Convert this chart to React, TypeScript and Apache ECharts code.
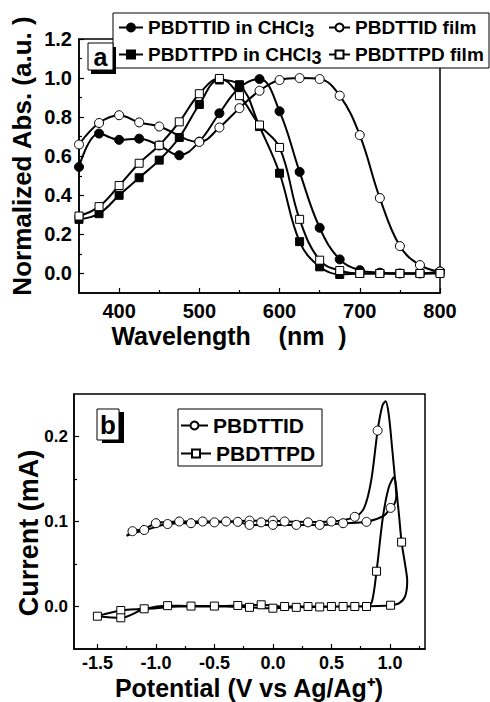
import React, { useEffect, useRef } from 'react';
import * as echarts from 'echarts';

const FONT = '"Liberation Sans", Arial, Helvetica, sans-serif';

// ---------- Panel a: UV-vis absorption ----------
const wavelengths = [350, 375, 400, 425, 450, 475, 500, 525, 550, 575, 600, 625, 650, 675, 700, 725, 750, 775, 800];
const tidSolution = [0.545, 0.716, 0.684, 0.69, 0.655, 0.605, 0.675, 0.82, 0.95, 0.995, 0.83, 0.52, 0.234, 0.072, 0.017, 0.004, 0.0, 0.0, 0.01];
const tidFilm = [0.66, 0.77, 0.81, 0.773, 0.752, null, 0.673, 0.747, 0.846, 0.935, 0.99, 1.0, 0.995, 0.91, 0.708, 0.386, 0.14, 0.043, 0.01];
const tpdSolution = [0.277, 0.306, 0.4, 0.49, 0.58, 0.696, 0.865, 0.99, 0.966, 0.752, 0.513, 0.163, 0.034, -0.005, 0.0, 0.0, 0.0, 0.0, 0.005];
const tpdFilm = [0.294, 0.342, 0.45, 0.564, 0.656, 0.776, 0.92, 0.998, 0.91, 0.76, 0.645, 0.277, 0.068, 0.015, 0.0, 0.0, 0.0, 0.0, 0.0];

const wlLabels = [400, 500, 600, 700, 800];
const wlMinorTicks = [450, 550, 650, 750];
const absLabels = [0.0, 0.2, 0.4, 0.6, 0.8, 1.0, 1.2];
const absMinorTicks = [0.1, 0.3, 0.5, 0.7, 0.9, 1.1];

// ---------- Panel b: cyclic voltammetry ----------
const tidPath: [number, number][] = [
  [-1.25, 0.083], [-1.2, 0.0886], [-1.1, 0.091], [-1.0, 0.098], [-0.8, 0.1], [-0.6, 0.1], [-0.4, 0.1],
  [-0.2, 0.101], [0.0, 0.101], [0.1, 0.1], [0.3, 0.0995], [0.5, 0.1], [0.7, 0.1055], [0.78, 0.116],
  [0.84, 0.148], [0.895, 0.207], [0.935, 0.236], [0.963, 0.2415], [0.99, 0.226], [1.02, 0.185],
  [1.045, 0.148], [1.055, 0.13], [1.04, 0.121], [1.006, 0.116], [0.95, 0.107], [0.8, 0.0996],
  [0.6, 0.098], [0.4, 0.096], [0.2, 0.096], [0.0, 0.096], [-0.2, 0.096], [-0.3, 0.0996], [-0.5, 0.099],
  [-0.7, 0.098], [-0.9, 0.097], [-1.1, 0.0895], [-1.2, 0.086], [-1.25, 0.083],
];
const tidMarkers: [number, number][] = [
  [-1.2, 0.0886], [-1.1, 0.09], [-1.0, 0.098], [-0.9, 0.097], [-0.8, 0.1], [-0.7, 0.098], [-0.6, 0.1],
  [-0.5, 0.099], [-0.4, 0.1], [-0.3, 0.0996], [-0.2, 0.101], [-0.2, 0.096], [-0.1, 0.099], [0.0, 0.101],
  [0.0, 0.096], [0.1, 0.1], [0.2, 0.096], [0.3, 0.099], [0.4, 0.096], [0.5, 0.1], [0.6, 0.098],
  [0.7, 0.1055], [0.8, 0.0996], [0.895, 0.207], [1.006, 0.116],
];
const tpdPath: [number, number][] = [
  [-1.5, -0.0114], [-1.3, -0.0133], [-1.1, -0.003], [-0.9, 0.001], [-0.7, 0.0005], [-0.5, 0.0005],
  [-0.3, 0.0012], [-0.1, 0.002], [0.1, 0.0], [0.3, 0.0], [0.5, 0.0], [0.7, 0.0], [0.8, 0.0],
  [0.845, 0.005], [0.886, 0.0415], [0.94, 0.105], [0.99, 0.14], [1.034, 0.152], [1.07, 0.118],
  [1.1, 0.0757], [1.135, 0.045], [1.148, 0.03], [1.13, 0.012], [1.08, 0.004], [1.006, 0.0015],
  [0.9, 0.0005], [0.6, 0.0], [0.4, -0.0005], [0.2, -0.001], [0.0, -0.002], [-0.2, -0.001],
  [-0.4, 0.0], [-0.6, 0.0], [-0.8, 0.0], [-1.0, -0.002], [-1.3, -0.0047], [-1.5, -0.0114],
];
const tpdMarkers: [number, number][] = [
  [-1.5, -0.0114], [-1.3, -0.0047], [-1.3, -0.0133], [-1.1, -0.0027], [-0.9, 0.001], [-0.7, 0.0005],
  [-0.5, 0.0005], [-0.3, 0.0012], [-0.2, -0.001], [-0.1, 0.002], [0.0, -0.002], [0.1, 0.0],
  [0.2, -0.001], [0.3, 0.0], [0.4, -0.0005], [0.5, 0.0], [0.6, 0.0], [0.7, 0.0], [0.8, 0.0],
  [0.886, 0.0415], [1.006, 0.0015], [1.1, 0.0757],
];

const potLabels = [-1.5, -1.0, -0.5, 0.0, 0.5, 1.0];
const potMinorTicks = [-1.25, -0.75, -0.25, 0.25, 0.75, 1.25];
const curLabels = [0.0, 0.1, 0.2];
const curMinorTicks = [0.05, 0.15];

const BLACK = '#000';
const lineStyle = { color: BLACK, width: 1.5 };
const tickStyle = { color: BLACK, width: 1.2 };

function mainAxis(gridIndex: number, min: number, max: number, position: string, labels: number[], fontSize: number, margin: number, fmt: (v: number) => string) {
  return {
    type: 'value', gridIndex, min, max, position,
    axisLine: { show: true, onZero: false, lineStyle },
    axisTick: { show: true, inside: true, length: 5, lineStyle: tickStyle, customValues: labels },
    axisLabel: {
      show: true, customValues: labels, margin, color: BLACK, fontFamily: FONT,
      fontWeight: 'bold', fontSize, lineHeight: fontSize, formatter: fmt,
    },
    splitLine: { show: false },
  };
}
function minorAxis(gridIndex: number, min: number, max: number, position: string, ticks: number[]) {
  return {
    type: 'value', gridIndex, min, max, position,
    axisLine: { show: false, onZero: false },
    axisTick: { show: true, inside: true, length: 3, lineStyle: tickStyle, customValues: ticks },
    axisLabel: { show: false },
    splitLine: { show: false },
  };
}

function absSeries(name: string, values: (number | null)[], symbol: string, filled: boolean, size: number) {
  return {
    name, type: 'line', xAxisIndex: 0, yAxisIndex: 0, smooth: 0.4, connectNulls: true,
    symbol, symbolSize: size, showSymbol: true,
    data: wavelengths.map((w, i) => [w, values[i] === null ? '-' : values[i]]),
    lineStyle: { color: BLACK, width: 2 },
    itemStyle: { color: filled ? BLACK : '#fff', borderColor: BLACK, borderWidth: 1 },
    emphasis: { disabled: true },
  };
}

function cvSeries(name: string, path: [number, number][], markers: [number, number][], symbol: string, size: number) {
  return [
    {
      name, type: 'line', xAxisIndex: 2, yAxisIndex: 2, smooth: 0.3,
      symbol, symbolSize: size, showSymbol: false, data: path,
      lineStyle: { color: BLACK, width: 2 },
      itemStyle: { color: '#fff', borderColor: BLACK, borderWidth: 1 },
      emphasis: { disabled: true },
    },
    {
      name: name + ' markers', type: 'scatter', xAxisIndex: 2, yAxisIndex: 2,
      symbol, symbolSize: size, data: markers, z: 3,
      itemStyle: { color: '#fff', borderColor: BLACK, borderWidth: 1, opacity: 1 },
      emphasis: { disabled: true },
    },
  ];
}

const legendText = (fontSize: number) => ({
  fontFamily: FONT, fontWeight: 'bold', fontSize, color: BLACK,
  rich: { sub: { fontFamily: FONT, fontWeight: 'bold', fontSize: fontSize - 1, color: BLACK, padding: [6, 0, 0, 0] } },
});
const legendFmt = (name: string) => name.replace('CHCl3', 'CHCl{sub|3}');

function legendItem(name: string, left: number, top: number, itemWidth: number, fontSize: number) {
  return {
    data: [name], left, top, orient: 'horizontal', padding: 0, itemGap: 0,
    itemWidth, itemHeight: 10, selectedMode: false, z: 10,
    formatter: legendFmt, textStyle: legendText(fontSize),
  };
}

const option = {
  animation: false,
  backgroundColor: '#fff',
  grid: [
    { left: 79, top: 39, width: 361, height: 254, show: true, borderColor: BLACK, borderWidth: 1.5 },
    { left: 74, top: 394, width: 351, height: 255, show: true, borderColor: BLACK, borderWidth: 1.5 },
  ],
  xAxis: [
    mainAxis(0, 350, 800, 'bottom', wlLabels, 20, 8, (v: number) => String(v)),
    minorAxis(0, 350, 800, 'bottom', wlMinorTicks),
    mainAxis(1, -1.7, 1.3, 'bottom', potLabels, 18, 5, (v: number) => v.toFixed(1)),
    minorAxis(1, -1.7, 1.3, 'bottom', potMinorTicks),
  ],
  yAxis: [
    mainAxis(0, -0.1, 1.2, 'left', absLabels, 20, 7, (v: number) => v.toFixed(1)),
    minorAxis(0, -0.1, 1.2, 'left', absMinorTicks),
    mainAxis(1, -0.05, 0.25, 'left', curLabels, 17, 6, (v: number) => v.toFixed(1)),
    minorAxis(1, -0.05, 0.25, 'left', curMinorTicks),
  ],
  legend: [
    legendItem('PBDTTID in CHCl3', 118, 18, 24, 19),
    legendItem('PBDTTID film', 328, 18, 21, 19),
    legendItem('PBDTTPD in CHCl3', 118, 45, 24, 19),
    legendItem('PBDTTPD film', 328, 45, 21, 19),
    legendItem('PBDTTID', 180, 415, 27, 21),
    legendItem('PBDTTPD', 180, 443, 30, 21),
  ],
  graphic: [
    // legend frames
    { type: 'rect', z: 5, shape: { x: 113, y: 13, width: 376, height: 55 }, style: { fill: '#fff', stroke: BLACK, lineWidth: 1 } },
    { type: 'rect', z: 5, shape: { x: 178, y: 409, width: 144, height: 57 }, style: { fill: '#fff', stroke: BLACK, lineWidth: 1 } },
    // panel label a
    { type: 'rect', z: 5, shape: { x: 91, y: 47, width: 25, height: 27 }, style: { fill: BLACK } },
    { type: 'rect', z: 6, shape: { x: 88, y: 43, width: 25, height: 27 }, style: { fill: '#fff', stroke: BLACK, lineWidth: 1 } },
    { type: 'text', z: 7, x: 100.5, y: 57, style: { text: 'a', fontFamily: FONT, fontWeight: 'bold', fontSize: 25, fill: BLACK, align: 'center', verticalAlign: 'middle' } },
    // panel label b
    { type: 'rect', z: 5, shape: { x: 102, y: 412, width: 22, height: 31 }, style: { fill: BLACK } },
    { type: 'rect', z: 6, shape: { x: 97, y: 409, width: 22, height: 31 }, style: { fill: '#fff', stroke: BLACK, lineWidth: 1 } },
    { type: 'text', z: 7, x: 108, y: 425, style: { text: 'b', fontFamily: FONT, fontWeight: 'bold', fontSize: 26, fill: BLACK, align: 'center', verticalAlign: 'middle' } },
    // axis titles
    { type: 'text', z: 7, x: 22, y: 156, rotation: Math.PI / 2, style: { text: 'Normalized Abs. (a.u. )', fontFamily: FONT, fontWeight: 'bold', fontSize: 26, fill: BLACK, align: 'center', verticalAlign: 'middle' } },
    { type: 'text', z: 7, x: 229, y: 336, style: { text: 'Wavelength    (nm  )', fontFamily: FONT, fontWeight: 'bold', fontSize: 25, lineHeight: 25, fill: BLACK, align: 'center', verticalAlign: 'middle' } },
    { type: 'text', z: 7, x: 29, y: 533, rotation: Math.PI / 2, style: { text: 'Current (mA)', fontFamily: FONT, fontWeight: 'bold', fontSize: 27, fill: BLACK, align: 'center', verticalAlign: 'middle' } },
    { type: 'text', z: 7, x: 249, y: 688, style: { text: 'Potential (V vs Ag/Ag\u207A)', fontFamily: FONT, fontWeight: 'bold', fontSize: 25, lineHeight: 25, fill: BLACK, align: 'center', verticalAlign: 'middle' } },
  ],
  series: [
    absSeries('PBDTTID in CHCl3', tidSolution, 'circle', true, 9),
    absSeries('PBDTTPD in CHCl3', tpdSolution, 'rect', true, 8),
    absSeries('PBDTTID film', tidFilm, 'circle', false, 9),
    absSeries('PBDTTPD film', tpdFilm, 'rect', false, 8),
    ...cvSeries('PBDTTPD', tpdPath, tpdMarkers, 'rect', 8),
    ...cvSeries('PBDTTID', tidPath, tidMarkers, 'circle', 9),
  ],
};

export default function App() {
  const ref = useRef<HTMLDivElement>(null);
  useEffect(() => {
    if (!ref.current) return;
    const chart = echarts.init(ref.current, null, { renderer: 'svg' });
    chart.setOption(option as any);
    return () => chart.dispose();
  }, []);
  return <div ref={ref} style={{ position: 'fixed', left: 0, top: 0, width: 490, height: 702, background: '#fff' }} />;
}
